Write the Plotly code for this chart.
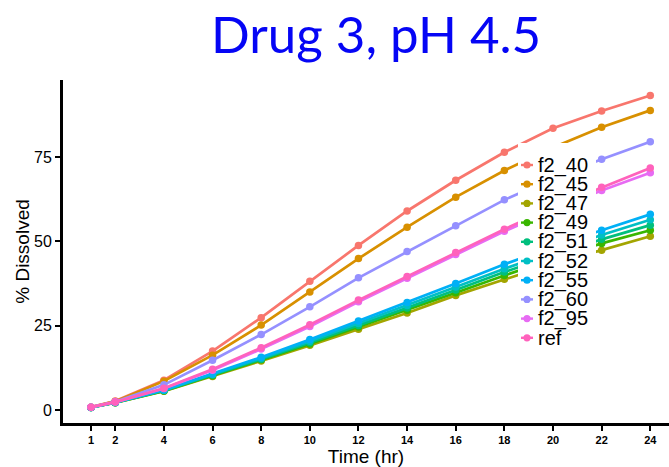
import plotly.graph_objects as go

# Sampling times (hr)
times = [1, 2, 4, 6, 8, 10, 12, 14, 16, 18, 20, 22, 24]
x_ticks = [1, 2, 4, 6, 8, 10, 12, 14, 16, 18, 20, 22, 24]
y_ticks = [0, 25, 50, 75]

# % dissolved per formulation
f2_40 = [0.9, 2.7, 8.9, 17.5, 27.4, 38.2, 48.8, 59.0, 68.1, 76.4, 83.5, 88.6, 93.2]
f2_45 = [0.9, 2.6, 8.6, 16.3, 25.2, 35.0, 44.9, 54.2, 63.1, 71.0, 77.8, 83.8, 88.8]
f2_47 = [0.8, 2.2, 5.6, 10.0, 14.6, 19.2, 24.0, 28.8, 34.0, 38.8, 43.4, 47.4, 51.5]
f2_49 = [0.8, 2.2, 5.7, 10.2, 14.9, 19.6, 24.6, 29.6, 34.8, 39.9, 44.8, 49.4, 53.3]
f2_51 = [0.8, 2.3, 5.8, 10.4, 15.1, 20.0, 25.1, 30.3, 35.6, 40.9, 45.9, 50.6, 54.8]
f2_52 = [0.8, 2.3, 5.9, 10.6, 15.4, 20.4, 25.7, 31.0, 36.5, 41.9, 47.0, 51.9, 56.4]
f2_55 = [0.8, 2.3, 6.0, 10.8, 15.7, 20.9, 26.4, 31.9, 37.5, 43.2, 48.4, 53.3, 58.0]
f2_60 = [0.9, 2.5, 7.5, 14.8, 22.4, 30.6, 39.2, 47.0, 54.6, 62.3, 68.6, 74.3, 79.5]
f2_95 = [0.9, 2.4, 6.4, 11.8, 18.1, 24.8, 32.1, 39.1, 46.1, 53.0, 59.3, 65.1, 70.3]
ref = [0.9, 2.4, 6.5, 12.1, 18.5, 25.3, 32.6, 39.6, 46.7, 53.6, 60.1, 66.0, 71.7]

names = ["f2_40", "f2_45", "f2_47", "f2_49", "f2_51",
         "f2_52", "f2_55", "f2_60", "f2_95", "ref"]
series = [f2_40, f2_45, f2_47, f2_49, f2_51, f2_52, f2_55, f2_60, f2_95, ref]
colors = ["#F8766D", "#D89000", "#A3A500", "#39B600", "#00BF7D",
          "#00BFC4", "#00B0F6", "#9590FF", "#E76BF3", "#FF62BC"]

W, H = 669, 467
ML, MR, MT, MB = 63, 0, 80, 44
PW, PH = W - ML - MR, H - MT - MB

fig = go.Figure()
for name, vals, col in zip(names, series, colors):
    fig.add_trace(go.Scatter(
        x=times, y=vals, name=name, mode="lines+markers",
        line=dict(color=col, width=2.7),
        marker=dict(color=col, size=7.5),
        showlegend=False, cliponaxis=False,
    ))


def px_x(p):
    return (p - ML) / PW


def px_y(p):
    return (H - MB - p) / PH


# Legend panel drawn on top of the lines
shapes = [dict(type="rect", xref="paper", yref="paper", layer="above",
               x0=px_x(518), x1=px_x(596), y0=px_y(360), y1=px_y(143),
               fillcolor="white", line=dict(width=0))]
annotations = []
row0, row_gap = 165.0, 19.2
key_x = 527
for i, (name, col) in enumerate(zip(names, colors)):
    cy = row0 + i * row_gap
    shapes.append(dict(type="line", xref="paper", yref="paper", layer="above",
                       x0=px_x(key_x - 6), x1=px_x(key_x + 6),
                       y0=px_y(cy), y1=px_y(cy),
                       line=dict(color=col, width=2.4)))
    r = 3.6
    shapes.append(dict(type="circle", xref="paper", yref="paper", layer="above",
                       x0=px_x(key_x - r), x1=px_x(key_x + r),
                       y0=px_y(cy + r), y1=px_y(cy - r),
                       fillcolor=col, line=dict(width=0)))
    annotations.append(dict(text=name, xref="paper", yref="paper",
                            x=px_x(536), y=px_y(cy), xanchor="left",
                            yanchor="middle", showarrow=False,
                            font=dict(family="Liberation Sans, Arial", size=20,
                                      color="black")))

annotations.append(dict(text="Drug 3, pH 4.5", xref="paper", yref="paper",
                        x=px_x(376), y=px_y(34), xanchor="center",
                        yanchor="middle", showarrow=False,
                        font=dict(family="Lato", size=51, color="#0505F5")))

fig.update_layout(
    width=W, height=H,
    margin=dict(l=ML, r=MR, t=MT, b=MB, pad=0),
    paper_bgcolor="white", plot_bgcolor="white",
    shapes=shapes, annotations=annotations,
    showlegend=False,
)
fig.update_xaxes(
    range=[-0.15, 24.77], tickvals=x_ticks, ticktext=[str(t) for t in x_ticks],
    showgrid=False, zeroline=False, showline=True, linecolor="black",
    linewidth=3, ticks="outside", ticklen=5, tickwidth=2, tickcolor="black",
    tickfont=dict(family="Liberation Sans, Arial", size=11, color="black",
                  weight="bold"),
    title=dict(text="Time (hr)", standoff=3,
               font=dict(family="Liberation Sans, Arial", size=19,
                         color="black")),
)
fig.update_yaxes(
    range=[-3.8, 97.8], tickvals=y_ticks,
    showgrid=False, zeroline=False, showline=True, linecolor="black",
    linewidth=3, ticks="outside", ticklen=5, tickwidth=2, tickcolor="black",
    tickfont=dict(family="Liberation Sans, Arial", size=16, color="black"),
    title=dict(text="% Dissolved", standoff=0,
               font=dict(family="Liberation Sans, Arial", size=19,
                         color="black")),
)

fig.write_html("out.html")
